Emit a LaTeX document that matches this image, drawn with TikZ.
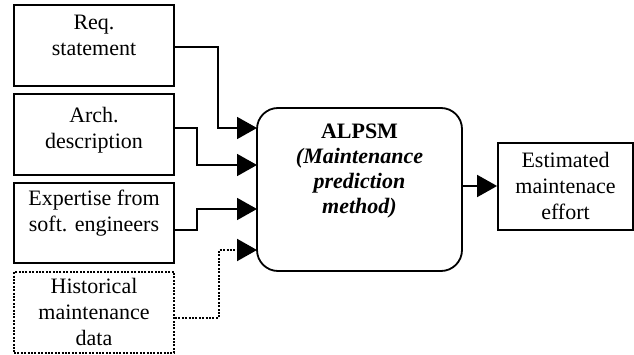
\documentclass[tikz,border=0pt]{standalone}
\usepackage{fontspec}
\setmainfont{Liberation Serif}
\usetikzlibrary{arrows.meta}
\begin{document}
\begin{tikzpicture}[x=1pt,y=-1pt,
  box/.style={draw,line width=1.8pt,inner sep=0pt},
  dotbox/.style={draw,line width=2pt,inner sep=0pt,dash pattern=on 2pt off 1.4pt},
  txt/.style={anchor=north,inner sep=0pt,align=center,font=\fontsize{22}{26}\selectfont},
  mtxt/.style={anchor=north,inner sep=0pt,align=center,font=\fontsize{22}{25}\selectfont\bfseries},
  arr/.style={line width=1.8pt,-{Triangle[length=20pt,width=22pt]}},
  darr/.style={arr,line width=2pt,dash pattern=on 2pt off 1.4pt}]
\useasboundingbox (0,0) rectangle (634,355);
% input boxes
\node[box,minimum width=160pt,minimum height=81pt] (b1) at (94,45.5) {};
\node[box,minimum width=160pt,minimum height=81pt] (b2) at (94,134.5) {};
\node[box,minimum width=160pt,minimum height=80pt] (b3) at (94,223) {};
\node[dotbox,minimum width=160pt,minimum height=81pt] (b4) at (94,312.5) {};
\node[txt] (t1) at (94,15) {Req.\\statement};
\node[txt] (t2) at (94,107.5) {Arch.\\description};
\node[txt] (t3) at (94,190) {Expertise from\\soft. engineers};
\node[txt] (t4) at (94,278) {Historical\\maintenance\\data};
% main box
\node[box,rounded corners=21pt,minimum width=205pt,minimum height=163pt] (main) at (359.5,189.5) {};
\node[mtxt] (tm) at (359.5,123.5) {ALPSM\\\textit{(Maintenance}\\\textit{prediction}\\\textit{method)}};
% output box
\node[box,minimum width=135pt,minimum height=87pt] (out) at (565.5,186.5) {};
\node[txt] (to) at (565.5,152.5) {Estimated\\maintenace\\effort};
% input points on main box
\coordinate (in1) at (257,128);
\coordinate (in2) at (257,165);
\coordinate (in3) at (257,209);
\coordinate (in4) at (257,250);
% connectors
\draw[arr] ([yshift=-1.5pt]b1.east) -- ++(43,0) |- (in1);
\draw[arr] ([yshift=6.5pt]b2.east) -- ++(22,0) |- (in2);
\draw[arr] ([yshift=-7pt]b3.east) -- ++(22,0) |- (in3);
\draw[darr] ([yshift=-5pt]b4.east) -- ++(44,0) |- (in4);
\draw[arr] ([yshift=3.5pt]main.east) -- ([yshift=3.5pt]main.east -| out.west);
\end{tikzpicture}
\end{document}
